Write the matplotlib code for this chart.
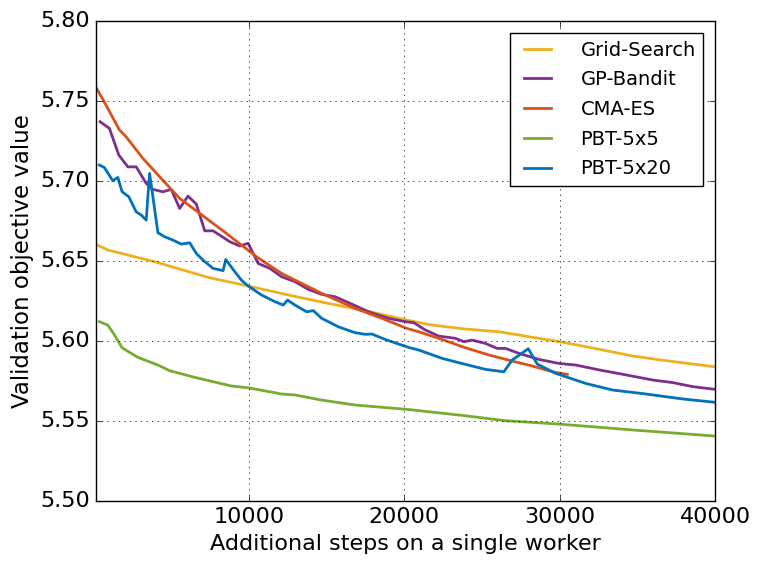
import numpy as np
import matplotlib.pyplot as plt

plt.style.use('classic')

# Readings from the reference (steps, validation objective)
grid_x = [0, 923, 3935, 7374, 9955, 12535, 15116, 17484, 20168, 21781, 23935,
          26084, 27374, 28232, 29097, 30387, 32568, 34716, 36871, 40000]
grid_y = [5.6612, 5.6569, 5.6496, 5.6398, 5.6344, 5.6288, 5.6235, 5.6190, 5.6131,
          5.6100, 5.6075, 5.6058, 5.6038, 5.6023, 5.6010, 5.5989, 5.5948, 5.5906,
          5.5877, 5.5839]

gp_x = [430, 1030, 1630, 2213, 2750, 3394, 3826, 4471, 5006, 5548, 6084, 6619,
        7161, 7697, 8774, 9419, 9955, 10600, 11355, 12103, 12968, 13826, 14684,
        15548, 16619, 17697, 18987, 20065, 20600, 21355, 22213, 23290, 23826,
        24361, 25226, 25974, 26516, 27374, 28665, 29955, 31032, 32568, 34290,
        36006, 37297, 38555, 40000]
gp_y = [5.7371, 5.7329, 5.7163, 5.7089, 5.7089, 5.6986, 5.6948, 5.6933, 5.6948,
        5.6829, 5.6906, 5.6856, 5.6689, 5.6689, 5.6621, 5.6594, 5.6611, 5.6485,
        5.6454, 5.6402, 5.6371, 5.6323, 5.6292, 5.6277, 5.6231, 5.6183, 5.6142,
        5.6121, 5.6115, 5.6069, 5.6031, 5.6017, 5.5996, 5.6006, 5.5985, 5.5954,
        5.5954, 5.5923, 5.5885, 5.5860, 5.5850, 5.5819, 5.5788, 5.5756, 5.5740,
        5.5715, 5.5698]

cma_x = [0, 690, 1677, 2100, 3180, 4258, 5548, 6839, 8555, 10490, 12103, 14684,
         16839, 18555, 20168, 20923, 22426, 23935, 25439, 26942, 28232, 29523, 30490]
cma_y = [5.7614, 5.7496, 5.7319, 5.7277, 5.7142, 5.7027, 5.6892, 5.6798, 5.6673,
         5.6527, 5.6423, 5.6298, 5.6204, 5.6142, 5.6079, 5.6058, 5.6010, 5.5958,
         5.5913, 5.5875, 5.5844, 5.5808, 5.5792]

pbt5_x = [390, 923, 1355, 1845, 2858, 4148, 4903, 6516, 8877, 9955, 12103, 12968,
          14684, 16839, 20168, 23935, 26516, 29955, 34716, 40000]
pbt5_y = [5.6121, 5.6100, 5.6038, 5.5958, 5.5898, 5.5850, 5.5815, 5.5773, 5.5719,
          5.5708, 5.5669, 5.5663, 5.5631, 5.5600, 5.5573, 5.5533, 5.5502, 5.5481,
          5.5444, 5.5406]

pbt20_x = [380, 700, 1245, 1568, 1845, 2277, 2748, 3071, 3394, 3613, 3826, 4148,
           4581, 5116, 5652, 6194, 6619, 7052, 7697, 8342, 8516, 9097, 9523, 9955,
           10813, 11677, 12213, 12490, 12968, 13716, 14148, 14684, 15761, 16839,
           17484, 17910, 18774, 20277, 20923, 22426, 23935, 25226, 26406, 26942,
           27974, 28555, 29742, 31677, 33394, 35548, 37910, 40000]
pbt20_y = [5.7100, 5.7085, 5.7002, 5.7023, 5.6933, 5.6902, 5.6808, 5.6788, 5.6756,
           5.7048, 5.6902, 5.6677, 5.6652, 5.6631, 5.6606, 5.6614, 5.6548, 5.6506,
           5.6454, 5.6440, 5.6510, 5.6433, 5.6381, 5.6344, 5.6288, 5.6246, 5.6225,
           5.6256, 5.6225, 5.6183, 5.6190, 5.6142, 5.6089, 5.6052, 5.6042, 5.6044,
           5.6010, 5.5960, 5.5944, 5.5892, 5.5854, 5.5823, 5.5808, 5.5881, 5.5952,
           5.5856, 5.5798, 5.5735, 5.5694, 5.5669, 5.5638, 5.5617]

series = [
    ('Grid-Search', grid_x, grid_y, '#EDB120'),
    ('GP-Bandit', gp_x, gp_y, '#7E2F8E'),
    ('CMA-ES', cma_x, cma_y, '#D95319'),
    ('PBT-5x5', pbt5_x, pbt5_y, '#77AC30'),
    ('PBT-5x20', pbt20_x, pbt20_y, '#0072BD'),
]

fig = plt.figure(figsize=(7.6, 5.7), dpi=100, facecolor='white')
ax = fig.add_axes([0.126, 0.121, 0.815, 0.842])

for name, xs, ys, col in series:
    ax.plot(xs, ys, color=col, linewidth=2, label=name)

ax.set_xlim(150, 40000)
ax.set_ylim(5.5, 5.8)
ax.set_xticks([10000, 20000, 30000, 40000])
ax.set_yticks(np.arange(5.50, 5.801, 0.05))
ax.yaxis.set_major_formatter(plt.FormatStrFormatter('%.2f'))
ax.tick_params(labelsize=16)
ax.grid(True)

ax.set_xlabel('Additional steps on a single worker', fontsize=16)
ax.set_ylabel('Validation objective value', fontsize=16.5)

ax.legend(loc='upper right', fontsize=14, handletextpad=1.2,
          borderaxespad=0.6, labelspacing=0.55)

fig.savefig('out.png', dpi=100, facecolor='white')
